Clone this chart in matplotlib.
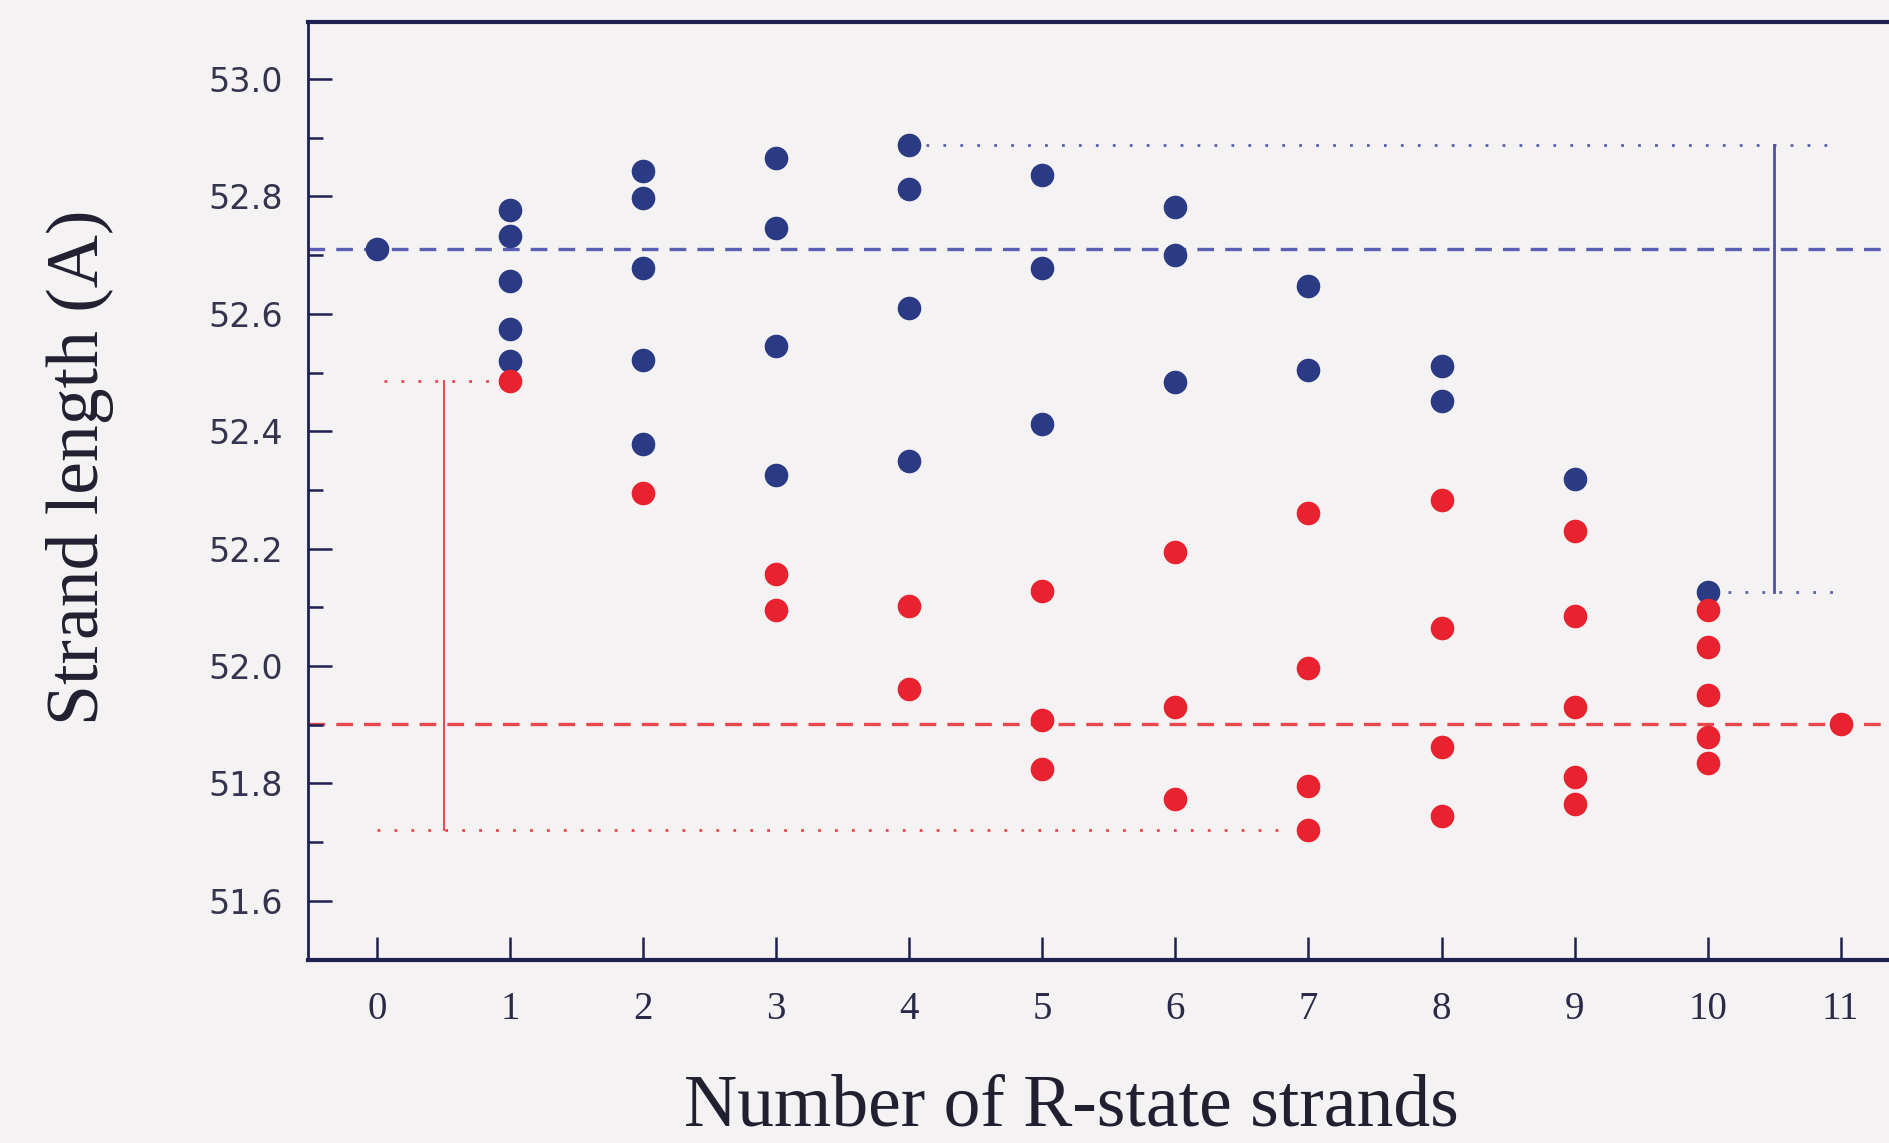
import matplotlib
matplotlib.use("Agg")
import matplotlib.pyplot as plt
from matplotlib.ticker import MultipleLocator

# T-state (blue) and R-state (red) strand lengths per number of R-state strands
blue_x = [0,
          1, 1, 1, 1, 1,
          2, 2, 2, 2, 2,
          3, 3, 3, 3,
          4, 4, 4, 4,
          5, 5, 5,
          6, 6, 6,
          7, 7,
          8, 8,
          9,
          10]
blue_y = [52.710,
          52.777, 52.732, 52.656, 52.574, 52.519,
          52.843, 52.798, 52.679, 52.522, 52.378,
          52.866, 52.747, 52.545, 52.326,
          52.887, 52.812, 52.610, 52.349,
          52.836, 52.679, 52.413,
          52.782, 52.701, 52.484,
          52.648, 52.505,
          52.512, 52.451,
          52.318,
          52.126]

red_x = [1,
         2,
         3, 3,
         4, 4,
         5, 5, 5,
         6, 6, 6,
         7, 7, 7, 7,
         8, 8, 8, 8,
         9, 9, 9, 9, 9,
         10, 10, 10, 10, 10,
         11]
red_y = [52.486,
         52.295,
         52.156, 52.095,
         52.103, 51.960,
         52.127, 51.908, 51.825,
         52.194, 51.930, 51.774,
         52.261, 51.997, 51.796, 51.721,
         52.283, 52.065, 51.862, 51.745,
         52.230, 52.086, 51.930, 51.811, 51.765,
         52.095, 52.033, 51.951, 51.879, 51.834,
         51.901]

x_ticks = list(range(12))
y_ticks = [51.6, 51.8, 52.0, 52.2, 52.4, 52.6, 52.8, 53.0]

BLUE = "#2b3a85"
RED = "#e8222e"
BLUE_LINE = "#5a5fb5"
RED_LINE = "#e8474d"
AXIS = "#1e2050"
BG = "#f4f2f3"

plt.rcParams['lines.scale_dashes'] = False

fig = plt.figure(figsize=(18.9, 11.43), dpi=100, facecolor=BG)
ax = fig.add_axes([0.1628, 0.1601, 0.8372, 0.821])
ax.set_facecolor(BG)

# reference levels: all-T and all-R
ax.axhline(blue_y[0], color=BLUE_LINE, lw=2.4, dashes=(12, 8), zorder=1)
ax.axhline(red_y[-1], color=RED_LINE, lw=2.4, dashes=(12, 8), zorder=1)

# range brackets
dot = (2, 10.2)
bmax, bmin = max(blue_y), min(blue_y)
rmax, rmin = max(red_y), min(red_y)
ax.plot([4, 10.9], [bmax, bmax], color=BLUE_LINE, lw=2, dashes=dot, zorder=1)
ax.plot([10.15, 10.98], [bmin, bmin], color=BLUE_LINE, lw=2, dashes=dot, zorder=1)
ax.plot([10.5, 10.5], [bmax, bmin], color="#4f4f9f", lw=2, zorder=1)
ax.plot([0.05, 1.0], [rmax, rmax], color=RED_LINE, lw=2, dashes=dot, zorder=1)
ax.plot([0.0, 6.87], [rmin, rmin], color=RED_LINE, lw=2, dashes=dot, zorder=1)
ax.plot([0.5, 0.5], [rmax, rmin], color=RED_LINE, lw=1.4, zorder=1)

ax.plot(blue_x, blue_y, 'o', color=BLUE, ms=17, mew=0, zorder=3)
ax.plot(red_x, red_y, 'o', color=RED, ms=17, mew=0, zorder=4)

ax.set_xlim(-0.521, 11.37)
ax.set_ylim(51.499, 53.098)
ax.set_xticks(x_ticks)
ax.set_yticks(y_ticks)
ax.set_yticklabels(["%.1f" % v for v in y_ticks])
ax.yaxis.set_minor_locator(MultipleLocator(0.1))

for s in ['left', 'bottom', 'top']:
    ax.spines[s].set_color(AXIS)
ax.spines['left'].set_linewidth(2.0)
ax.spines['bottom'].set_linewidth(3.0)
ax.spines['top'].set_linewidth(3.0)
ax.spines['right'].set_visible(False)

ax.tick_params(axis='y', which='major', direction='in', length=17, width=1.8,
               color=AXIS, pad=18, labelsize=24, labelcolor="#34344f")
ax.tick_params(axis='y', which='minor', direction='in', length=10.5, width=1.8,
               color=AXIS)
ax.tick_params(axis='x', which='major', direction='in', length=16.5, width=1.8,
               color=AXIS, pad=22, labelsize=28, labelcolor="#2a2a48")
for lab in ax.get_xticklabels():
    lab.set_fontfamily("Liberation Serif")
for lab in ax.get_yticklabels():
    lab.set_fontfamily("DejaVu Sans")

fig.text(0.0423, 0.5914, "Strand length (A)", rotation=90, ha='center', va='center',
         fontsize=53, family="Liberation Serif", color="#202030")
fig.text(0.567, 0.0149, "Number of R-state strands", ha='center', va='baseline',
         fontsize=53, family="Liberation Serif", color="#202030")

fig.savefig("out.png", dpi=100, facecolor=BG)
